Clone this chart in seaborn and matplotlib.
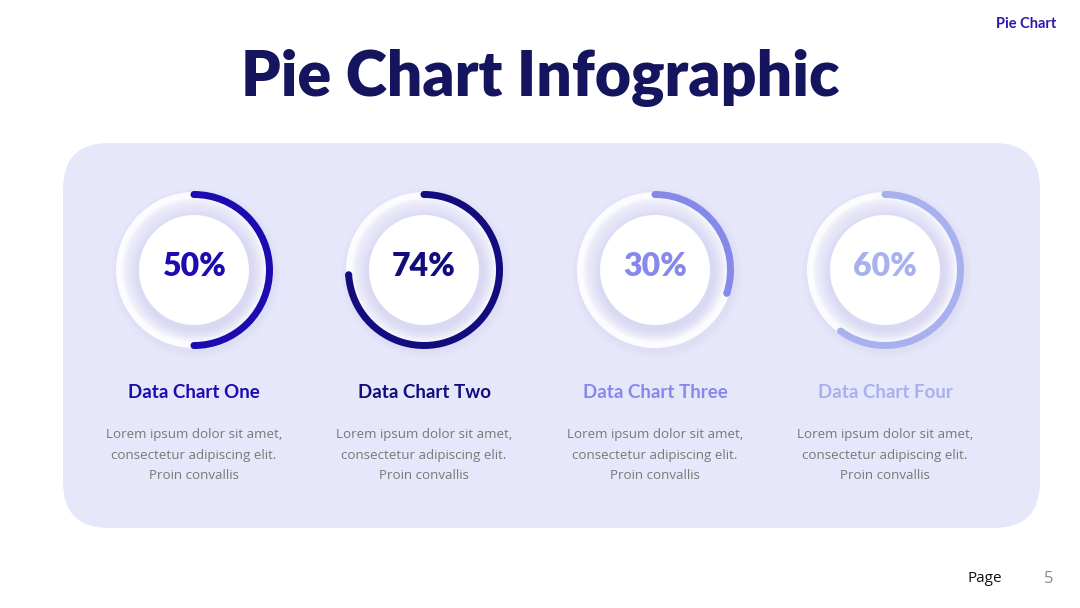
import matplotlib
matplotlib.use("Agg")
import seaborn as sns
import matplotlib.pyplot as plt
from matplotlib.patches import FancyBboxPatch, Circle
import numpy as np

# -------------------------------
# DATA
# -------------------------------
chart_labels = ["Data Chart One", "Data Chart Two", "Data Chart Three", "Data Chart Four"]
percents = [50, 74, 30, 60]
chart_colors = ["#1D0BB2", "#120C7E", "#8789EA", "#A8B1EE"]
body_text = "Lorem ipsum dolor sit amet,\nconsectetur adipiscing elit.\nProin convallis"

title = "Pie Chart Infographic"
corner_tag = "Pie Chart"
page_label = "Page"
page_number = "5"

# -------------------------------
# STYLE
# -------------------------------
sns.set_theme(style="white")
plt.rcParams["font.family"] = ["Lato", "DejaVu Sans"]

W, H = 1080, 608
fig = plt.figure(figsize=(W / 100, H / 100), dpi=100)
fig.patch.set_facecolor("white")
ax = fig.add_axes([0, 0, 1, 1])
ax.set_facecolor("white")

# panel
panel = FancyBboxPatch((63 + 46, H - 528 + 46), 977 - 92, 385 - 92,
                       boxstyle="round,pad=46", fc="#E7E7FB", ec="none", zorder=0)
ax.add_patch(panel)

# -------------------------------
# RINGS
# -------------------------------
x_centers = [194, 424, 655, 885]
y_ring = H - 270

for xc, pct, col, lab in zip(x_centers, percents, chart_colors, chart_labels):
    # soft shadow outside the ring
    for k in range(5):
        ax.add_patch(Circle((xc + 2, y_ring - 3), 79 + k * 1.5, fc="#D8D7F2",
                            ec="none", alpha=0.12, zorder=1))
    # white track
    ax.add_patch(Circle((xc, y_ring), 78, fc="#FCFCFF", ec="none", zorder=2))
    # fading lavender toward the inside
    for r in np.arange(72, 55, -1.5):
        ax.add_patch(Circle((xc, y_ring), r, fc="#E3E2F8", ec="none",
                            alpha=0.22, zorder=3))
    # shadow under the white disc
    for k in range(6):
        ax.add_patch(Circle((xc + 2, y_ring - 4), 56 + k * 1.6, fc="#CFCDEE",
                            ec="none", alpha=0.07, zorder=3))
    # white disc
    ax.add_patch(Circle((xc, y_ring), 55, fc="white", ec="none", zorder=4))

    # progress arc
    wedges, _ = ax.pie([pct, 100 - pct], colors=[col, "none"], startangle=90,
                       counterclock=False, center=(xc, y_ring), radius=79,
                       wedgeprops=dict(width=7, edgecolor="none"), frame=True)
    for w in wedges:
        w.set_zorder(5)
    # round caps
    r_mid = 79 - 3.5
    for ang in [90, 90 - 360 * pct / 100]:
        a = np.deg2rad(ang)
        ax.add_patch(Circle((xc + r_mid * np.cos(a), y_ring + r_mid * np.sin(a)), 3.5,
                            fc=col, ec="none", zorder=5))

    ax.text(xc, y_ring + 4, f"{pct}%", ha="center", va="center", fontsize=23,
            fontweight="heavy", color=col, zorder=6)
    ax.text(xc, H - 392, lab, ha="center", va="center", fontsize=13.5,
            fontweight="bold", color=col, zorder=6)
    ax.text(xc, H - 455, body_text, ha="center", va="center", fontsize=9.6,
            color="#787878", linespacing=1.75, family=["Open Sans", "DejaVu Sans"], zorder=6)

# -------------------------------
# TEXT
# -------------------------------
ax.text(540, H - 78, title, ha="center", va="center", fontsize=45,
        fontweight="heavy", color="#15145E")
ax.text(1026, H - 24, corner_tag, ha="center", va="center", fontsize=10.5,
        fontweight="bold", color="#2A18B0")
ax.text(985, H - 579, page_label, ha="center", va="center", fontsize=11,
        color="#111111", family=["Open Sans", "DejaVu Sans"])
ax.text(1049, H - 579, page_number, ha="center", va="center", fontsize=12,
        color="#8A8A8A", family=["Open Sans", "DejaVu Sans"])

ax.set_xlim(0, W)
ax.set_ylim(0, H)
ax.set_aspect("auto")
ax.set_axis_off()

fig.savefig("out.png", dpi=100)
